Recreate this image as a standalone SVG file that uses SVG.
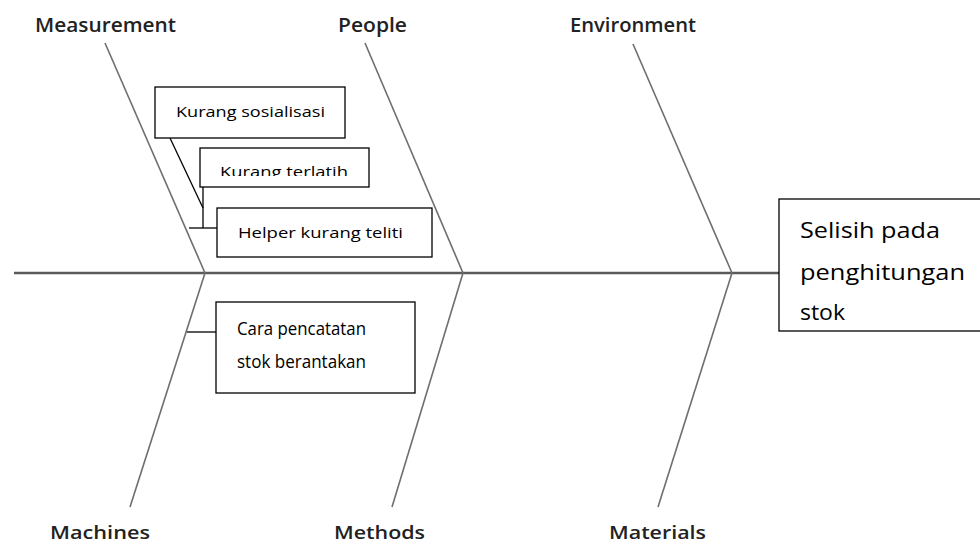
<svg xmlns="http://www.w3.org/2000/svg" width="980" height="548" viewBox="0 0 980 548">
<style>
.bone{stroke:#6e6e6e;stroke-width:1.6;fill:none}
.spine{stroke:#5a5a5a;stroke-width:2.6;fill:none}
.box{fill:#fff;stroke:#000;stroke-width:1.3}
.link{stroke:#000;stroke-width:1.3;fill:none}
.cat{font-family:"Open Sans","Liberation Sans",sans-serif;font-size:19px;fill:#222;font-weight:600}
.catb{font-family:"Open Sans","Liberation Sans",sans-serif;font-size:18px;fill:#222;font-weight:600}
.t{font-family:"Open Sans","Liberation Sans",sans-serif;fill:#000}
</style>
<defs>
<clipPath id="clipTerlatih"><rect x="200" y="148" width="170" height="28"/></clipPath>
</defs>
<rect width="980" height="548" fill="#fff"/>
<g id="connectors">
<line class="spine" x1="14" y1="273" x2="779" y2="273"/>
<line class="bone" x1="105" y1="43" x2="205" y2="273"/>
<line class="bone" x1="365" y1="43" x2="463" y2="273"/>
<line class="bone" x1="633" y1="44" x2="732" y2="273"/>
<line class="bone" x1="205" y1="273" x2="130" y2="507"/>
<line class="bone" x1="463" y1="273" x2="392" y2="507"/>
<line class="bone" x1="732" y1="273" x2="658" y2="507"/>
<line class="link" x1="170" y1="138" x2="203" y2="208"/>
<line class="link" x1="203" y1="187" x2="203" y2="228"/>
<line class="link" x1="189" y1="228" x2="217" y2="228"/>
<line class="link" x1="187" y1="332" x2="216" y2="332"/>
</g>
<g id="label-measurement"><text class="cat" x="35" y="32" textLength="141" lengthAdjust="spacingAndGlyphs">Measurement</text></g>
<g id="label-people"><text class="cat" x="338" y="32" textLength="69" lengthAdjust="spacingAndGlyphs">People</text></g>
<g id="label-environment"><text class="cat" x="570" y="32" textLength="126" lengthAdjust="spacingAndGlyphs">Environment</text></g>
<g id="label-machines"><text class="catb" x="50" y="539" textLength="100" lengthAdjust="spacingAndGlyphs">Machines</text></g>
<g id="label-methods"><text class="catb" x="334" y="539" textLength="91" lengthAdjust="spacingAndGlyphs">Methods</text></g>
<g id="label-materials"><text class="catb" x="609" y="539" textLength="97" lengthAdjust="spacingAndGlyphs">Materials</text></g>
<g id="node-sosialisasi">
<rect class="box" x="155" y="87" width="190" height="51"/>
<text class="t" x="176" y="117" font-size="15" textLength="149" lengthAdjust="spacingAndGlyphs">Kurang sosialisasi</text>
</g>
<g id="node-terlatih">
<rect class="box" x="200" y="148" width="169" height="39"/>
<text class="t" x="220" y="177" font-size="15" textLength="128" lengthAdjust="spacingAndGlyphs" clip-path="url(#clipTerlatih)">Kurang terlatih</text>
</g>
<g id="node-helper">
<rect class="box" x="217" y="208" width="215" height="49"/>
<text class="t" x="238" y="238" font-size="15" textLength="165" lengthAdjust="spacingAndGlyphs">Helper kurang teliti</text>
</g>
<g id="node-cara">
<rect class="box" x="216" y="302" width="199" height="91"/>
<text class="t" x="237" y="335" font-size="18" textLength="129" lengthAdjust="spacingAndGlyphs">Cara pencatatan</text>
<text class="t" x="237" y="368" font-size="18" textLength="129" lengthAdjust="spacingAndGlyphs">stok berantakan</text>
</g>
<g id="node-effect">
<rect class="box" x="779" y="199" width="210" height="132"/>
<text class="t" x="800" y="238" font-size="22" textLength="140" lengthAdjust="spacingAndGlyphs">Selisih pada</text>
<text class="t" x="800" y="280" font-size="22" textLength="165" lengthAdjust="spacingAndGlyphs">penghitungan</text>
<text class="t" x="800" y="320" font-size="22" textLength="45" lengthAdjust="spacingAndGlyphs">stok</text>
</g>
</svg>
